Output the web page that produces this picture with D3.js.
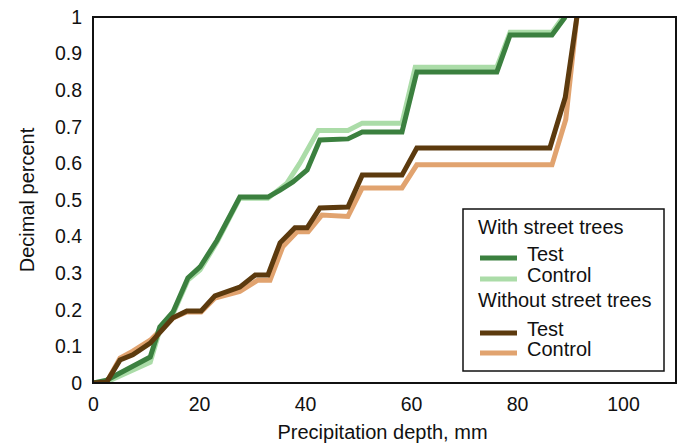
<!DOCTYPE html>
<html>
<head>
<meta charset="utf-8">
<script src="https://cdn.jsdelivr.net/npm/d3@7"></script>
<style>
  body { margin: 0; background: #fff; }
  text { font-family: "Liberation Sans", Arial, sans-serif; fill: #111; }
</style>
</head>
<body>
<div class="chart"></div>
<script>
// data: [precipitation depth (mm), decimal percent]
const withTreesTest = [
   [0, 0], [2.6, 0.008], [10.8, 0.071], [12.6, 0.153], [15.1, 0.194], [17.9, 0.287],
   [20.2, 0.317], [23.4, 0.39], [27.7, 0.508], [33.0, 0.508], [35.3, 0.527], [37.7, 0.549],
   [40.4, 0.582], [42.8, 0.664], [48.1, 0.667], [50.8, 0.686], [58.3, 0.686], [61.1, 0.85],
   [76.2, 0.85], [78.7, 0.951], [86.6, 0.951], [89.1, 1]
];
const withTreesControl = [
   [0, 0], [2.6, 0.003], [10.8, 0.057], [12.6, 0.145], [15.1, 0.189], [17.9, 0.281],
   [20.2, 0.309], [23.4, 0.385], [27.7, 0.505], [33.0, 0.505], [36.6, 0.546], [39.0, 0.6],
   [42.5, 0.69], [48.1, 0.69], [50.8, 0.71], [58.3, 0.71], [60.8, 0.863], [76.2, 0.863],
   [78.7, 0.958], [86.6, 0.958], [88.7, 1]
];
const withoutTreesTest = [
   [0, 0], [2.6, 0.003], [5.1, 0.063], [7.5, 0.077], [10.8, 0.109], [15.1, 0.178],
   [17.7, 0.197], [20.4, 0.197], [23.0, 0.238], [27.7, 0.262], [30.6, 0.295], [33.0, 0.295],
   [35.3, 0.383], [38.1, 0.424], [40.4, 0.424], [42.8, 0.478], [48.1, 0.481], [50.8, 0.568],
   [58.3, 0.568], [61.1, 0.642], [86.2, 0.642], [89.1, 0.78], [91.3, 1]
];
const withoutTreesControl = [
   [0, 0], [2.6, 0.003], [5.1, 0.068], [7.5, 0.087], [10.8, 0.117], [15.1, 0.178],
   [17.7, 0.194], [20.4, 0.194], [23.0, 0.232], [27.7, 0.25], [31.1, 0.281], [33.4, 0.281],
   [35.8, 0.372], [38.5, 0.413], [40.6, 0.413], [43.2, 0.459], [48.1, 0.455], [50.8, 0.533],
   [58.3, 0.533], [61.1, 0.596], [86.6, 0.596], [89.2, 0.72], [91.3, 1]
];
const xTicks = [0, 20, 40, 60, 80, 100];
const yTicks = [0, 0.1, 0.2, 0.3, 0.4, 0.5, 0.6, 0.7, 0.8, 0.9, 1];

// setup chart
const width = 684;
const height = 444;
const margin = { top: 17, right: 8, bottom: 61, left: 93 };
const svg = d3.select(".chart").append("svg").attr("width", width).attr("height", height);

const x = d3.scaleLinear().domain([0, 110]).range([margin.left, width - margin.right]);
const y = d3.scaleLinear().domain([0, 1]).range([height - margin.bottom, margin.top]);

svg.append("clipPath").attr("id", "plot-clip")
   .append("rect")
   .attr("x", x(0)).attr("y", y(1))
   .attr("width", x(110) - x(0)).attr("height", y(0) - y(1));

const line = d3.line().x((d) => x(d[0])).y((d) => y(d[1]));

// controls go under the tests
const series = [
   { data: withTreesControl, color: "#abdca8" },
   { data: withoutTreesControl, color: "#e1a36f" },
   { data: withTreesTest, color: "#3b803f" },
   { data: withoutTreesTest, color: "#5c3a0e" }
];

svg.append("g")
   .attr("clip-path", "url(#plot-clip)")
   .selectAll("path")
   .data(series)
   .enter()
   .append("path")
   .attr("d", (d) => line(d.data))
   .attr("fill", "none")
   .attr("stroke", (d) => d.color)
   .attr("stroke-width", 5);

// frame
svg.append("rect")
   .attr("x", x(0)).attr("y", y(1))
   .attr("width", x(110) - x(0)).attr("height", y(0) - y(1))
   .attr("fill", "none")
   .attr("stroke", "#111")
   .attr("stroke-width", 2);

// axes, tick labels only
const xAxis = d3.axisBottom(x).tickValues(xTicks).tickSize(0).tickPadding(14).tickFormat(d3.format("d"));
const yAxis = d3.axisLeft(y).tickValues(yTicks).tickSize(0).tickPadding(11).tickFormat((d) => String(+d.toFixed(1)));

const gx = svg.append("g").attr("transform", `translate(0,${y(0)})`).call(xAxis);
const gy = svg.append("g").attr("transform", `translate(${x(0)},0)`).call(yAxis);
[gx, gy].forEach((g) => {
   g.select(".domain").remove();
   g.selectAll("text").attr("font-size", 19.5).attr("font-family", null).attr("fill", "#111");
});

svg.append("text")
   .attr("x", (x(0) + x(110)) / 2 - 2)
   .attr("y", 439)
   .attr("text-anchor", "middle")
   .attr("font-size", 20)
   .text("Precipitation depth, mm");

svg.append("text")
   .attr("transform", `translate(34,${(y(0) + y(1)) / 2}) rotate(-90)`)
   .attr("text-anchor", "middle")
   .attr("font-size", 20)
   .text("Decimal percent");

// legend
const legend = svg.append("g").attr("transform", "translate(463,209)");
legend.append("rect")
   .attr("width", 201).attr("height", 162)
   .attr("fill", "#fff").attr("stroke", "#111").attr("stroke-width", 1.5);

const legendItems = [
   { type: "title", label: "With street trees", y: 18 },
   { type: "item", label: "Test", color: "#3b803f", y: 45 },
   { type: "item", label: "Control", color: "#abdca8", y: 66 },
   { type: "title", label: "Without street trees", y: 91 },
   { type: "item", label: "Test", color: "#5c3a0e", y: 120 },
   { type: "item", label: "Control", color: "#e1a36f", y: 140 }
];

const li = legend.selectAll("g.item").data(legendItems).enter().append("g")
   .attr("class", "item")
   .attr("transform", (d) => `translate(0,${d.y})`);

li.filter((d) => d.type === "item").append("line")
   .attr("x1", 17).attr("x2", 54).attr("y1", 4).attr("y2", 4)
   .attr("stroke", (d) => d.color).attr("stroke-width", 5);

li.append("text")
   .attr("x", (d) => (d.type === "title" ? 15 : 64))
   .attr("y", 0)
   .attr("dy", "0.35em")
   .attr("font-size", 20)
   .text((d) => d.label);
</script>
</body>
</html>
